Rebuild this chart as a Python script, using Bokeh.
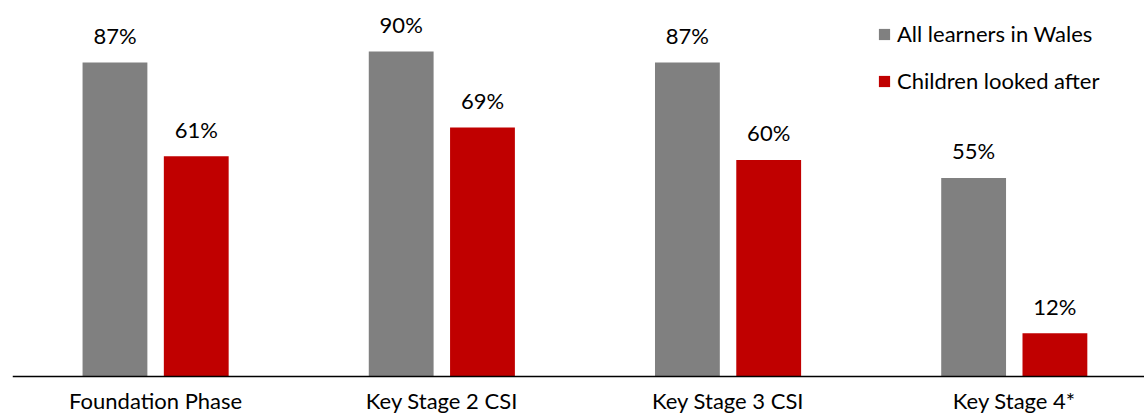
from bokeh.plotting import figure
from bokeh.models import ColumnDataSource, Legend, LegendItem, Range1d, Span
from bokeh.transform import dodge
from bokeh.embed import file_html
from bokeh.resources import INLINE
from bokeh.core.properties import value

categories = ["Foundation Phase", "Key Stage 2 CSI", "Key Stage 3 CSI", "Key Stage 4*"]
all_learners = [87, 90, 87, 55]
looked_after = [61, 69, 60, 12]
series_names = ["All learners in Wales", "Children looked after"]
colors = ["#808080", "#C00000"]

xs = [i + 0.5 for i in range(len(categories))]
src = ColumnDataSource(dict(
    x=xs, a=all_learners, b=looked_after, zero=[0] * len(xs), cat=categories,
    al=[f"{v}%" for v in all_learners], bl=[f"{v}%" for v in looked_after],
))

FONT = "Lato"
FS = "22px"
p = figure(width=1144, height=416, output_backend="svg", toolbar_location=None,
           x_range=Range1d(0, 3.955), y_range=Range1d(-11.08, 104.16),
           min_border_left=12, min_border_right=0, min_border_top=0, min_border_bottom=0)
p.outline_line_color = None
p.grid.visible = False
p.xaxis.visible = False
p.yaxis.visible = False

off = 0.142
w = 0.2265
r1 = p.vbar(x=dodge("x", -off, range=p.x_range), top="a", width=w, source=src, color=colors[0], line_color=None)
r2 = p.vbar(x=dodge("x", off, range=p.x_range), top="b", width=w, source=src, color=colors[1], line_color=None)

# baseline (category axis line)
p.add_layout(Span(location=0, dimension="width", line_color="#000000", line_width=1.5))

for col, lab, o in [("a", "al", -off), ("b", "bl", off)]:
    p.text(x=dodge("x", o, range=p.x_range), y=col, text=lab, source=src,
           text_align="center", text_baseline="alphabetic", y_offset=-27,
           text_font=value(FONT), text_font_size=FS, text_color="#000000")

# category labels
p.text(x="x", y="zero", text="cat", source=src, text_align="center",
       text_baseline="alphabetic", y_offset=24,
       text_font=value(FONT), text_font_size=FS, text_color="#000000")

legend = Legend(items=[LegendItem(label=series_names[0], renderers=[r1]),
                       LegendItem(label=series_names[1], renderers=[r2])],
                location=(865, 322), orientation="vertical")
legend.background_fill_alpha = 0
legend.border_line_color = None
legend.padding = 0
legend.margin = 0
legend.spacing = 20
legend.glyph_width = 14
legend.glyph_height = 14
legend.label_height = 22
legend.label_standoff = 6
legend.label_text_font = FONT
legend.label_text_font_size = FS
legend.label_text_color = "#000000"
p.add_layout(legend, "center")

open("out.html", "w").write(file_html(p, INLINE))
